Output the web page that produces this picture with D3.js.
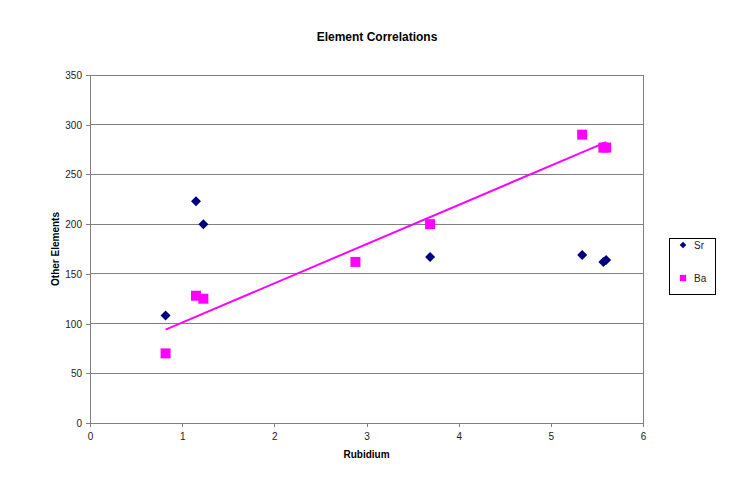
<!DOCTYPE html>
<html><head><meta charset="utf-8">
<script src="https://cdn.jsdelivr.net/npm/d3@7"></script>
<style>body{margin:0;background:#fff}svg{display:block}text{font-family:"Liberation Sans",Arial,sans-serif}</style>
</head><body><svg id="c" width="755" height="487"></svg>
<script>
const rubidium = [0.82, 1.15, 1.23, 2.88, 3.69, 5.34, 5.57, 5.60];
const srValues = [108, 223, 200, null, 167, 169, 162, 164];
const baValues = [70, 128, 125, 162, 200, 290, 277, 277];
const xTicks = [0, 1, 2, 3, 4, 5, 6];
const yTicks = [0, 50, 100, 150, 200, 250, 300, 350];
const seriesNames = ["Sr", "Ba"];

const svg = d3.select("#c");
const L = 90, R = 643, T = 75, B = 423;
const x = d3.scaleLinear().domain([0, 6]).range([L, R]);
const y = d3.scaleLinear().domain([0, 350]).range([B, T]);
const grey = "#808080";

// gridlines
svg.append("g").selectAll("line").data(yTicks.filter(d => d > 0)).join("line")
  .attr("x1", L).attr("x2", R).attr("y1", d => y(d)).attr("y2", d => y(d))
  .attr("stroke", grey).attr("stroke-width", 1).attr("shape-rendering", "crispEdges");
// right border
svg.append("line").attr("x1", R).attr("x2", R).attr("y1", T).attr("y2", B)
  .attr("stroke", grey).attr("shape-rendering", "crispEdges");

const xAxis = svg.append("g").attr("transform", `translate(0,${B})`)
  .call(d3.axisBottom(x).tickValues(xTicks).tickSizeInner(4).tickSizeOuter(0).tickPadding(6).tickFormat(d3.format("d")));
const yAxis = svg.append("g").attr("transform", `translate(${L},0)`)
  .call(d3.axisLeft(y).tickValues(yTicks).tickSizeInner(4).tickSizeOuter(0).tickPadding(4).tickFormat(d3.format("d")));
[xAxis, yAxis].forEach(g => {
  g.select(".domain").attr("stroke", grey).attr("shape-rendering", "crispEdges");
  g.selectAll(".tick line").attr("stroke", grey).attr("shape-rendering", "crispEdges");
  g.selectAll("text").attr("font-size", 10).attr("fill", "#222")
    .attr("font-family", '"Liberation Sans",Arial,sans-serif');
});
yAxis.selectAll(".tick text").attr("dy", "0.35em");

// trend line (least squares of Ba on Rb)
const mx = d3.mean(rubidium), my = d3.mean(baValues);
const sxy = d3.sum(rubidium, (v, i) => (v - mx) * (baValues[i] - my));
const sxx = d3.sum(rubidium, v => (v - mx) ** 2);
const slope = sxy / sxx, icpt = my - slope * mx;
const xe = d3.extent(rubidium);
svg.append("path")
  .datum(xe.map(v => [v, icpt + slope * v]))
  .attr("d", d3.line().x(d => x(d[0])).y(d => y(d[1])))
  .attr("stroke", "#FF00FF").attr("stroke-width", 2).attr("fill", "none");

const diamond = d3.symbol().type(d3.symbolSquare).size(50)();
const square = d3.symbol().type(d3.symbolSquare).size(100)();

const srPts = rubidium.map((v, i) => [v, srValues[i]]).filter(d => d[1] != null);
const baPts = rubidium.map((v, i) => [v, baValues[i]]);

svg.append("g").selectAll("path").data(baPts).join("path")
  .attr("d", square).attr("fill", "#FF00FF")
  .attr("transform", d => `translate(${x(d[0])},${y(d[1])})`);
svg.append("g").selectAll("path").data(srPts).join("path")
  .attr("d", diamond).attr("fill", "#000080")
  .attr("transform", d => `translate(${x(d[0])},${y(d[1])}) rotate(45)`);

// titles
svg.append("text").attr("x", 377).attr("y", 41).attr("text-anchor", "middle")
  .attr("font-size", 12).attr("font-weight", "bold").text("Element Correlations");
svg.append("text").attr("x", (L + R) / 2).attr("y", 458).attr("text-anchor", "middle")
  .attr("font-size", 10).attr("font-weight", "bold").attr("font-family", '"DejaVu Sans Condensed","Liberation Sans",sans-serif').text("Rubidium");
svg.append("text").attr("transform", `translate(59,${(T + B) / 2}) rotate(-90)`).attr("text-anchor", "middle")
  .attr("font-size", 10).attr("font-weight", "bold").attr("font-family", '"DejaVu Sans Condensed","Liberation Sans",sans-serif').text("Other Elements");

// legend
const lg = svg.append("g");
lg.append("rect").attr("x", 669.5).attr("y", 238.5).attr("width", 46).attr("height", 56)
  .attr("fill", "#fff").attr("stroke", "#000").attr("stroke-width", 1);
const ly = [245, 278];
lg.append("path").attr("d", d3.symbol().type(d3.symbolSquare).size(22)()).attr("fill", "#000080")
  .attr("transform", `translate(683,${ly[0]}) rotate(45)`);
lg.append("path").attr("d", d3.symbol().type(d3.symbolSquare).size(40)()).attr("fill", "#FF00FF")
  .attr("transform", `translate(683,${ly[1]})`);
seriesNames.forEach((n, i) => {
  lg.append("text").attr("x", 694).attr("y", ly[i]).attr("dy", "0.35em")
    .attr("font-size", 10).attr("fill", "#222").text(n);
});
</script></body></html>
